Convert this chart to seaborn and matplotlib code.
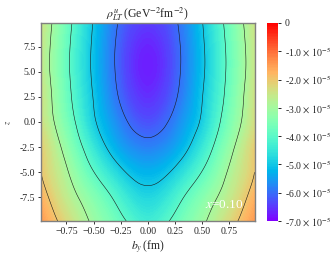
import numpy as np
import matplotlib
matplotlib.use("Agg")
import matplotlib.pyplot as plt
import matplotlib.tri as mtri
import seaborn as sns

# values, in units of 1e-5 (symmetric in b_y, right half only)
b_half = [0.0, 0.125, 0.25, 0.375, 0.5, 0.625, 0.75, 0.875, 0.985]
z_vals = [-10.0, -7.5, -5.0, -2.5, 0.0, 2.5, 5.0, 7.5, 10.0]
rho_half = [
    [-4.37, -4.17, -3.82, -3.46, -3.11, -2.71, -2.26, -1.83, -1.46],
    [-4.78, -4.64, -4.28, -3.85, -3.45, -3.05, -2.63, -2.16, -1.73],
    [-5.27, -5.17, -4.87, -4.45, -3.98, -3.47, -2.92, -2.43, -2.00],
    [-5.81, -5.71, -5.45, -5.03, -4.50, -3.88, -3.25, -2.63, -2.10],
    [-6.27, -6.14, -5.81, -5.38, -4.90, -4.24, -3.58, -2.94, -2.37],
    [-6.57, -6.43, -6.08, -5.59, -5.03, -4.41, -3.75, -3.06, -2.45],
    [-6.72, -6.58, -6.20, -5.69, -5.12, -4.50, -3.84, -3.16, -2.55],
    [-6.67, -6.54, -6.19, -5.69, -5.11, -4.49, -3.82, -3.14, -2.55],
    [-6.45, -6.35, -6.08, -5.61, -5.03, -4.39, -3.72, -3.04, -2.47],
]
line_levels = [-6, -5, -4, -3, -2]
cbar_ticks = [0, -1, -2, -3, -4, -5, -6, -7]
cbar_labels = ['0'] + ['-%d.0 $\\times$ $10^{-5}$' % i for i in range(1, 8)]
x_ticks = [-0.75, -0.5, -0.25, 0.0, 0.25, 0.5, 0.75]
x_labels = ['\u22120.75', '\u22120.50', '\u22120.25', '0.00', '0.25', '0.50', '0.75']
z_ticks = [-7.5, -5.0, -2.5, 0.0, 2.5, 5.0, 7.5]
z_labels = ['-7.5', '-5.0', '-2.5', '0.0', '2.5', '5.0', '7.5']

sns.set_theme(style="ticks")
plt.rcParams['font.family'] = ['Liberation Serif']
plt.rcParams['mathtext.fontset'] = 'stix'
plt.rcParams['font.size'] = 7

b = np.array(b_half)
rho_right = np.array(rho_half)
b_full = np.hstack([-b[:0:-1], b])
rho = np.hstack([rho_right[:, :0:-1], rho_right])

# let matplotlib's triangulation refiner round off the coarse table
bb, zz = np.meshgrid(b_full, z_vals)
tri = mtri.Triangulation(bb.ravel(), zz.ravel())
interp = mtri.CubicTriInterpolator(tri, rho.ravel(), kind='min_E')
tri_fine, rho_fine = mtri.UniformTriRefiner(tri).refine_field(rho.ravel(), interp, subdiv=3)

fig = plt.figure(figsize=(3.35, 2.59), dpi=100)
ax = fig.add_axes([41 / 335, 1 - 221 / 259, 213.5 / 335, 198 / 259])
cax = fig.add_axes([267 / 335, 1 - 221 / 259, 11 / 335, 198 / 259])

cmap = sns.color_palette("rainbow", as_cmap=True)
cf = ax.tricontourf(tri_fine, rho_fine, levels=np.linspace(-7, 0, 141), cmap=cmap, vmin=-7, vmax=0)
ax.tricontour(tri_fine, rho_fine, levels=line_levels, colors='k', linewidths=0.4, linestyles='solid')

ax.set_xlim(-0.985, 0.985)
ax.set_ylim(-9.85, 9.85)
ax.set_xticks(x_ticks)
ax.set_xticklabels(x_labels)
ax.set_yticks(z_ticks)
ax.set_yticklabels(z_labels)
ax.tick_params(length=2, width=0.7, pad=2, labelsize=7, color='#333333')
for s in ax.spines.values():
    s.set_color('#808080')
    s.set_linewidth(1.0)
ax.set_xlabel('$b_y\\,$(fm)', fontsize=8.5, labelpad=1.5)
ax.set_ylabel('$z$', fontsize=6, labelpad=5)
ax.set_title('$\\rho^{u}_{LT}\\,$(GeV$^{-2}$fm$^{-2}$)', fontsize=8.5, pad=2)
ax.text(0.946, 0.08, '$x$=0.10', transform=ax.transAxes, color='white',
        fontsize=9.5, ha='right', va='center')

cb = fig.colorbar(cf, cax=cax)
cb.set_ticks(cbar_ticks)
cb.set_ticklabels(cbar_labels)
cb.outline.set_visible(False)
cb.ax.tick_params(length=2, width=0.7, pad=3, labelsize=7)

fig.savefig('out.png', dpi=100)
